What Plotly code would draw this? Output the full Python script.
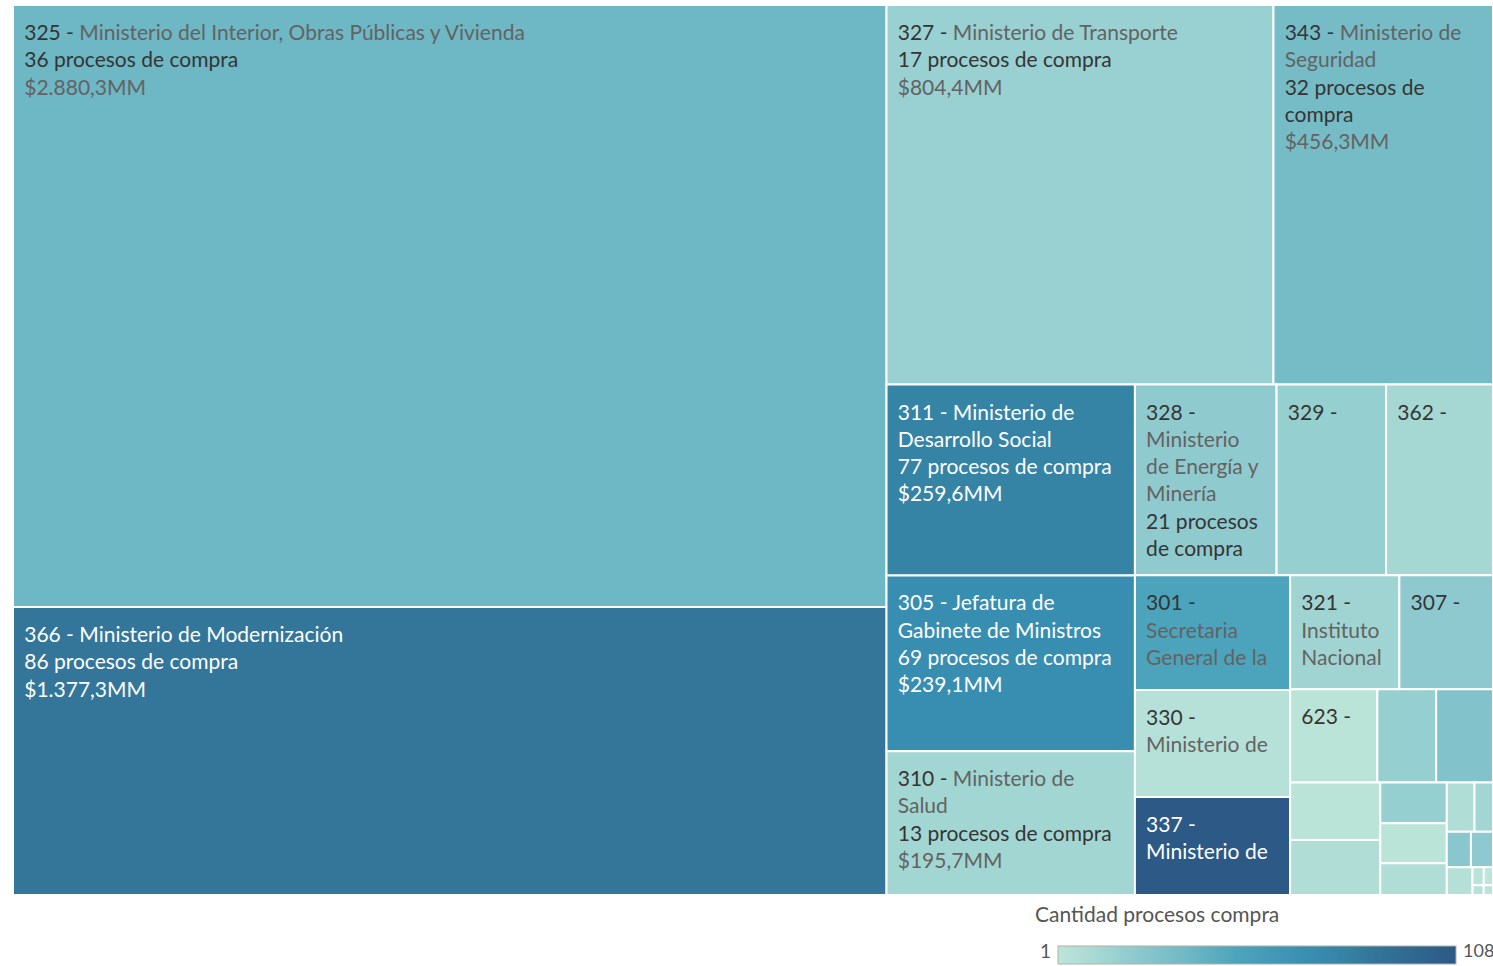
import textwrap
import plotly.graph_objects as go

# ---------------- data ----------------
codes = ["325", "366", "327", "343", "311", "305", "310", "328", "329", "362",
         "301", "330", "337", "321", "307", "623",
         "s1", "s2", "s3", "s4", "s5", "s6", "s7", "s8", "s9", "s10",
         "s11", "s12", "s13", "s14", "s15", "s16"]
names = ["Ministerio del Interior, Obras Públicas y Vivienda",
         "Ministerio de Modernización",
         "Ministerio de Transporte",
         "Ministerio de Seguridad",
         "Ministerio de Desarrollo Social",
         "Jefatura de Gabinete de Ministros",
         "Ministerio de Salud",
         "Ministerio de Energía y Minería",
         "", "",
         "Secretaria General de la",
         "Ministerio de",
         "Ministerio de",
         "Instituto Nacional",
         "", "",
         "", "", "", "", "", "", "", "", "", "", "", "", "", "", "", ""]
counts = [36, 86, 17, 32, 77, 69, 13, 21, 18, 12,
          49, 4, 108, 14, 22, 2,
          18, 27, 2, 7, 18, 2, 7, 7, 13, 24, 22, 5, 3, 1, 4, 2]
amounts = [2880.3, 1377.3, 804.4, 456.3, 259.6, 239.1, 195.7, 148.0, 114.4, 111.7,
           97.6, 90.9, 83.3, 68.1, 58.4, 44.5,
           30.0, 29.0, 28.5, 27.1, 14.9, 14.5, 11.6, 7.5, 5.0, 4.7,
           4.3, 3.9, 1.1, 0.9, 0.6, 0.5]

legend_title = "Cantidad procesos compra"
count_min, count_max = 1, 108

# ------------- label display settings (wrapping as in the original) -------------
wrap_chars = [80, 80, 60, 19, 22, 22, 22, 12, 12, 12,
              13, 13, 13, 10, 12, 12] + [12] * 16
lines_shown = [3, 3, 3, 5, 4, 4, 4, 6, 1, 1,
               3, 2, 2, 3, 1, 1] + [0] * 16

FONT = "Lato, sans-serif"
FS = 21
DARK_TXT = "#353535"
SOFT_TXT = "#636363"
NB = "\u00a0"
LINE_PREFIX = f'<span style="font-size:32px">{NB}</span>'


def fmt_amount(v):
    s = f"{v:,.1f}".replace(",", "X").replace(".", ",").replace("X", ".")
    return f"${s}MM"


def build_label(i):
    n = lines_shown[i]
    if n == 0:
        return ""
    w = wrap_chars[i]
    header = f"{codes[i]} - {names[i]}".strip()
    head_lines = textwrap.wrap(header, w)
    cnt_lines = textwrap.wrap(f"{counts[i]} procesos de compra", w)
    amt_lines = [fmt_amount(amounts[i])]
    light = counts[i] < 60
    c_dark = DARK_TXT if light else "white"
    c_soft = SOFT_TXT if light else "white"
    out = []
    for k, ln in enumerate(head_lines):
        if k == 0:
            code_part = f"{codes[i]} -"
            rest = ln[len(code_part):]
            out.append(f'<span style="color:{c_dark}">{code_part}</span>'
                       + (f'<span style="color:{c_soft}">{rest}</span>' if rest else ""))
        else:
            out.append(f'<span style="color:{c_soft}">{ln}</span>')
    out += [f'<span style="color:{c_dark}">{ln}</span>' for ln in cnt_lines]
    out += [f'<span style="color:{c_soft}">{ln}</span>' for ln in amt_lines]
    out = out[:n]
    return "<br>".join(LINE_PREFIX + ln for ln in out)


labels = [f"{c} - {nm}" if nm else c for c, nm in zip(codes, names)]
texts = [build_label(i) for i in range(len(codes))]

blue_teal = [
    [0.00, "#bde5da"],
    [0.11, "#a3d6d2"],
    [0.19, "#8ecacf"],
    [0.33, "#6db7c4"],
    [0.45, "#4ba4bc"],
    [0.64, "#388db0"],
    [0.72, "#3583a5"],
    [0.80, "#337599"],
    [1.00, "#2c5985"],
]

W, H = 1493, 966

fig = go.Figure(go.Treemap(
    labels=labels,
    parents=[""] * len(labels),
    values=amounts,
    text=texts,
    texttemplate="%{text}",
    textposition="top left",
    textfont=dict(family=FONT, size=FS, color=DARK_TXT),
    customdata=counts,
    hovertemplate="%{label}<br>%{customdata} procesos de compra<br>%{value:.1f} MM<extra></extra>",
    sort=True,
    tiling=dict(packing="squarify", squarifyratio=1.5, pad=0),
    pathbar=dict(visible=False),
    marker=dict(
        colors=counts,
        colorscale=blue_teal,
        cmin=count_min,
        cmax=count_max,
        line=dict(color="white", width=2),
        pad=dict(t=0, l=0, r=0, b=0),
        showscale=True,
        colorbar=dict(
            orientation="h",
            x=(1058 + 1456) / 2 / W, xanchor="center",
            len=398 / W, lenmode="fraction",
            y=1 / H, yanchor="bottom",
            thickness=18,
            xpad=0, ypad=0,
            outlinewidth=1, outlinecolor="#b5b0a4",
            showticklabels=False, ticks="",
        ),
    ),
    domain=dict(x=[13 / W, 1.0], y=[1 - 895 / H, 1 - 5 / H]),
))

fig.update_layout(
    width=W, height=H,
    margin=dict(l=0, r=0, t=0, b=0),
    paper_bgcolor="white",
    font=dict(family=FONT, color=DARK_TXT),
    annotations=[
        dict(text=legend_title, x=1033 / W, y=1 - 913 / H, xref="paper", yref="paper",
             xanchor="left", yanchor="middle", showarrow=False,
             font=dict(size=FS, color="#555555", family=FONT)),
        dict(text=str(count_min), x=1053 / W, y=1 - 950 / H, xref="paper", yref="paper",
             xanchor="right", yanchor="middle", showarrow=False,
             font=dict(size=19, color="#555555", family=FONT)),
        dict(text=str(count_max), x=1461 / W, y=1 - 950 / H, xref="paper", yref="paper",
             xanchor="left", yanchor="middle", showarrow=False,
             font=dict(size=18, color="#555555", family=FONT)),
    ],
)

fig.write_html("out.html", config={"displayModeBar": False},
               post_script="document.body.style.margin='0';")
